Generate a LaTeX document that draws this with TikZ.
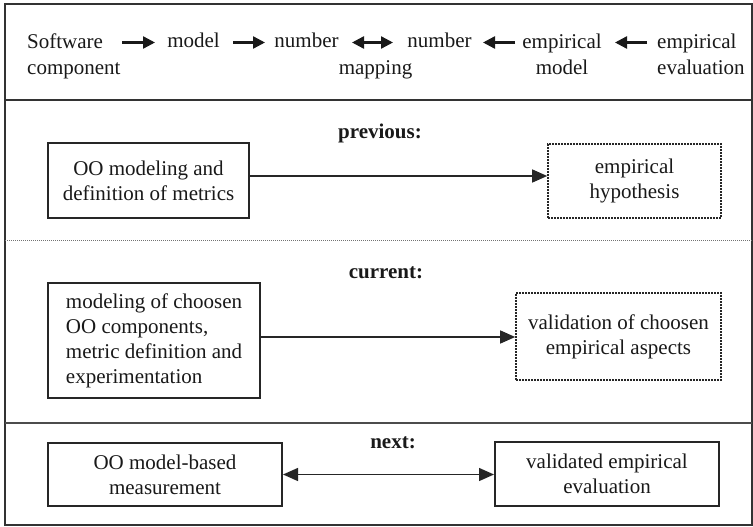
\documentclass[tikz,border=0pt]{standalone}
\usepackage{fontspec}
\setmainfont{Liberation Serif}
\usetikzlibrary{arrows.meta}
\begin{document}
\begin{tikzpicture}[x=1pt,y=-1pt,
  every node/.style={font=\fontsize{21}{25}\selectfont, text=black!90, inner sep=0pt},
  rowtext/.style={font=\fontsize{21}{27}\selectfont},
  frameline/.style={draw=black!80, line width=2pt},
  solidbox/.style={draw=black!85, line width=2pt},
  dotbox/.style={draw=black!85, line width=1.6pt, dash pattern=on 1.6pt off 1.4pt},
  phase/.style={font=\fontsize{21}{25}\selectfont\bfseries},
  flow/.style={line width=1.3pt, draw=black!85, -{Triangle[length=15pt,width=13pt]}},
  biflow/.style={line width=1.3pt, draw=black!85, {Triangle[length=15pt,width=13pt]}-{Triangle[length=15pt,width=13pt]}},
  chain/.style={line width=2.4pt, draw=black!90, -{Triangle[length=12pt,width=12pt]}},
  bichain/.style={line width=2.4pt, draw=black!90, {Triangle[length=12pt,width=12pt]}-{Triangle[length=12pt,width=12pt]}},
  ]
% canvas and outer frame
\fill[white] (0,0) rectangle (753,527);
\useasboundingbox (0,0) rectangle (753,527);
\draw[frameline] (5,4) rectangle (751.5,525);

% section separators
\draw[frameline] (5,100) -- (751.5,100);
\draw[black!55, line width=1pt, dash pattern=on 1pt off 1pt] (5,240) -- (751.5,240);
\draw[draw=black!70, line width=1.8pt] (5,423) -- (751.5,423);

% measurement chain along the top (multi-line nodes sit on their last baseline)
\node[rowtext, align=left, anchor=base west] (sw) at (27,75) {Software\\component};
\node[rowtext, anchor=base] (mdl) at (193.5,48) {model};
\node[rowtext, anchor=base] (num1) at (306.5,48) {number};
\node[rowtext, anchor=base] (map) at (375.5,75) {mapping};
\node[rowtext, anchor=base] (num2) at (439.5,48) {number};
\node[rowtext, align=center, anchor=base] (emod) at (562,75) {empirical\\model};
\node[rowtext, align=left, anchor=base west] (eeval) at (657,75) {empirical\\evaluation};

\coordinate (a1s) at (122,42.5); \coordinate (a1e) at (155,42.5);
\coordinate (a2s) at (233,42.5); \coordinate (a2e) at (265,42.5);
\coordinate (a3s) at (352,42.5); \coordinate (a3e) at (393,42.5);
\coordinate (a4s) at (515,42.5); \coordinate (a4e) at (483,42.5);
\coordinate (a5s) at (647,42.5); \coordinate (a5e) at (615,42.5);
\draw[chain] (a1s) -- (a1e);
\draw[chain] (a2s) -- (a2e);
\draw[bichain] (a3s) -- (a3e);
\draw[chain] (a4s) -- (a4e);
\draw[chain] (a5s) -- (a5e);

% previous
\node[phase] (prevT) at (380,133) {previous:};
\node[solidbox, minimum width=201pt, minimum height=75pt, align=center] (prevL) at (148.5,180.5) {OO modeling and\\definition of metrics};
\node[dotbox, minimum width=173pt, minimum height=74pt, align=center] (prevR) at (634.5,181) {empirical\\hypothesis};
\draw[flow] ([yshift=4.5pt]prevL.east) -- ([yshift=4.5pt]prevL.east -| prevR.west);

% current
\node[phase] (curT) at (386,273) {current:};
\node[solidbox, minimum width=212pt, minimum height=115pt, align=left] (curL) at (154,340.5) {modeling of choosen\\OO components,\\metric definition and\\experimentation};
\node[dotbox, minimum width=205pt, minimum height=87pt, align=center] (curR) at (618.5,336.5) {validation of choosen\\empirical aspects};
\draw[flow] ([yshift=3.5pt]curL.east) -- ([yshift=3.5pt]curL.east -| curR.west);

% next
\node[phase] (nextT) at (393,443) {next:};
\node[solidbox, minimum width=234pt, minimum height=63pt, align=center] (nextL) at (165,474.5) {OO model-based\\measurement};
\node[solidbox, minimum width=224pt, minimum height=64pt, align=center] (nextR) at (607,474) {validated empirical\\evaluation};
\draw[biflow] (nextL.east) -- (nextL.east -| nextR.west);
\end{tikzpicture}
\end{document}
